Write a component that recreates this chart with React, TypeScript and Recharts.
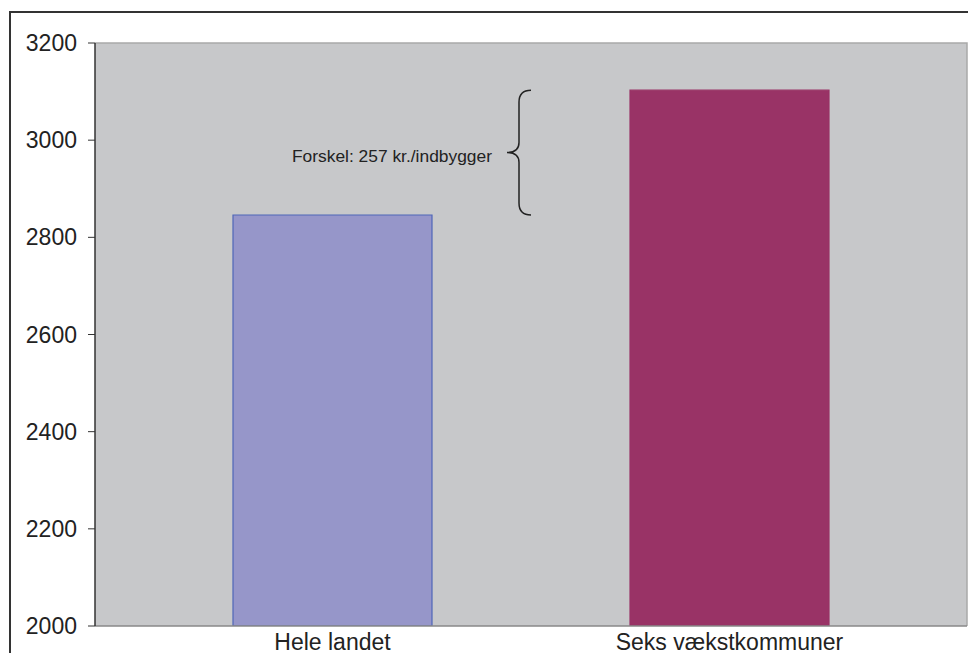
import React from "react";
import { BarChart, Bar, XAxis, YAxis, CartesianGrid, Cell, ReferenceArea } from "recharts";

const categories = ["Hele landet", "Seks vækstkommuner"];
const values = [2846, 3103];
const barColors = ["#9696c9", "#993366"];
const barStrokes = ["#4f66b8", "#993366"];
const yTicks = [2000, 2200, 2400, 2600, 2800, 3000, 3200];

const data = categories.map((name, i) => ({ name, value: values[i] }));
const diff = values[1] - values[0];

const FONT = "'Liberation Sans', Arial, sans-serif";
const X_PAD = 39;

// curly brace spanning the two bar heights, label to its left
function Brace(props: any) {
  const { y, height } = props;
  const t = y;
  const b = y + height;
  const m = (t + b) / 2;
  const spine = 519;
  const tip = 507;
  const arm = 531;
  const d =
    `M${arm},${t} Q${spine},${t} ${spine},${t + 12} L${spine},${m - 10} ` +
    `Q${spine},${m} ${tip},${m} Q${spine},${m} ${spine},${m + 10} ` +
    `L${spine},${b - 12} Q${spine},${b} ${arm},${b}`;
  return (
    <g>
      <path d={d} fill="none" stroke="#222" strokeWidth={1.5} />
      <text
        x={492}
        y={m + 5}
        textAnchor="end"
        dominantBaseline="middle"
        fontSize={17.4}
        fontFamily={FONT}
        fill="#222"
      >
        {`Forskel: ${diff} kr./indbygger`}
      </text>
    </g>
  );
}

// only top and right edges of the plot frame (area rect excludes the axis padding)
function PlotFrame(props: any) {
  const { x, y, width, height } = props;
  const left = x - X_PAD;
  const right = x + width + X_PAD;
  return (
    <path
      d={`M${left},${y} H${right} V${y + height}`}
      fill="none"
      stroke="#a9a9a9"
      strokeWidth={1.5}
    />
  );
}

function CategoryTick(props: any) {
  const { x, y, payload } = props;
  return (
    <text x={x} y={y + 23.5} textAnchor="middle" fontSize={23} fontFamily={FONT} fill="#222">
      {payload.value}
    </text>
  );
}

export default function App() {
  return (
    <div style={{ position: "absolute", left: 0, top: 0, width: 968, height: 653, overflow: "hidden", background: "#fff" }}>
      <div
        style={{
          position: "absolute",
          left: 9,
          top: 11,
          width: 1100,
          height: 800,
          border: "2px solid #333",
        }}
      />
      <div style={{ position: "absolute", left: 0, top: 0 }}>
        <BarChart width={968} height={653} data={data} margin={{ top: 43, right: 1, left: 0, bottom: 0 }}>
          <CartesianGrid fill="#c7c8ca" horizontal={false} vertical={false} />
          <XAxis
            dataKey="name"
            height={27}
            padding={{ left: X_PAD, right: X_PAD }}
            tickLine={false}
            tickSize={0}
            tickMargin={0}
            axisLine={{ stroke: "#888", strokeWidth: 1.5 }}
            tick={<CategoryTick />}
          />
          <YAxis
            width={95}
            domain={[2000, 3200]}
            ticks={yTicks}
            tickSize={7}
            tickMargin={11}
            tickLine={{ stroke: "#333" }}
            axisLine={{ stroke: "#333", strokeWidth: 1.5 }}
            tick={{ fill: "#222", fontSize: 23, fontFamily: FONT }}
            allowDataOverflow
          />
          <ReferenceArea y1={2000} y2={3200} shape={<PlotFrame />} ifOverflow="visible" />
          <Bar dataKey="value" barSize={199} isAnimationActive={false}>
            {data.map((_, i) => (
              <Cell key={i} fill={barColors[i]} stroke={barStrokes[i]} strokeWidth={1.2} />
            ))}
          </Bar>
          <ReferenceArea y1={values[0]} y2={values[1]} shape={<Brace />} ifOverflow="visible" />
        </BarChart>
      </div>
    </div>
  );
}
